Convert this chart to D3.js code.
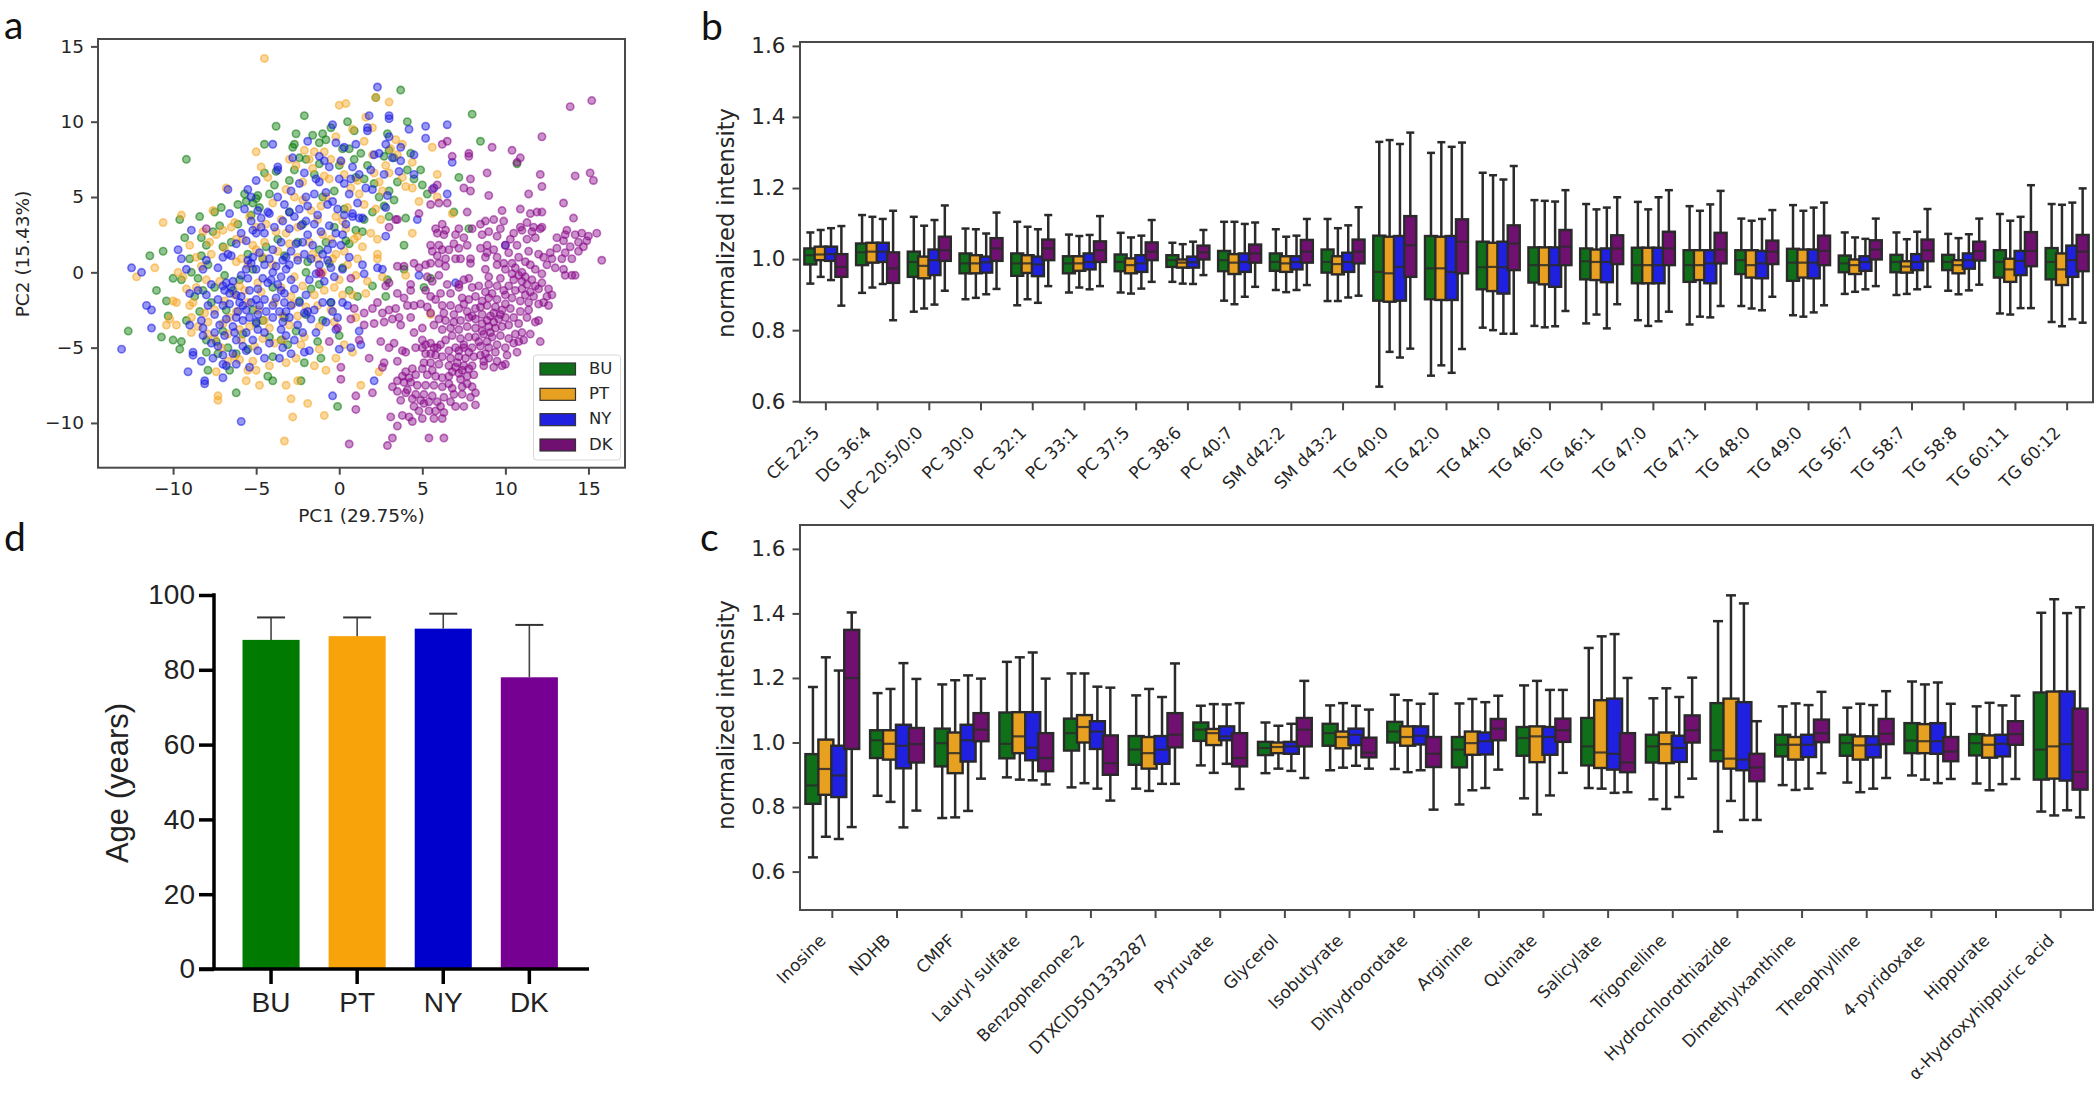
<!DOCTYPE html>
<html><head><meta charset="utf-8">
<script src="https://cdn.jsdelivr.net/npm/d3@7"></script>
<style>html,body{margin:0;padding:0;background:#fff}svg{display:block}</style>
</head><body><svg id="c" width="2100" height="1093"></svg>
<script>
// ---------- group names / colours ----------
const groups = ["BU","PT","NY","DK"];
const boxColors = ["#10701a","#e8a020","#2020e0","#701070"];
const dotColors = ["#0a7a0a","#f5a623","#1a1ae6","#8a0a8a"];
const barColors = ["#007a00","#f9a30a","#0000cc","#750091"];

// ---------- panel a : PCA scores [PC1, PC2] ----------
const pcaBU = [[3.7,12.1],[2.2,11.6],[-2.1,10.4],[8,10.5],[-3.8,9.7],[0.5,10],[4.1,10],[8.5,8.7],[-4.5,8.5],[-9.2,7.5],[-2.8,8.3],[-2.7,8.5],[-1,9.2],[-0.5,9.6],[10.7,7.2],[7.2,6.3],[4.9,6.8],[5,5.8],[4.3,7.9],[4.5,6.2],[0.2,8.2],[0.9,7.5],[1.7,7.1],[3.5,6],[3,5.4],[3.3,4.8],[-4.5,6.6],[-3.8,6.7],[-4.9,5.1],[-5,4.9],[-4.8,4.3],[-8.4,3.7],[-9.6,3.5],[-7.5,4],[-7.1,4.3],[-9.3,2.3],[-8.3,2.3],[-10.6,1.4],[-8,1.8],[-7,1.7],[-11.4,1.1],[-8.3,1.1],[-9,0.9],[-10,-0.4],[-9.5,-0.5],[-11,-1.2],[-10.4,-1.9],[-8.2,-1.2],[-10.3,-2.9],[-6,-0.5],[-12.7,-3.9],[-10.7,-4.3],[-10,-4.5],[-9.5,-4.6],[-9.6,-5.1],[-8,-4.5],[-7.4,-4.6],[-8,-5.3],[-6.7,-5],[-5.5,-5.1],[-4,-5.6],[-7.9,-6.5],[-6.6,-6.5],[-4.3,-6.9],[-4,-7.2],[-2.3,-7.2],[-6.2,-8],[-0.1,-8.9],[-3.5,-4.5],[-2.1,-6],[-1.1,-5.7],[-1.3,-4.6],[0.6,-1.2],[2,-0.9],[2.8,-1.6],[3.9,0.2],[3.9,1.8],[4,3.6],[3,3.7],[2,4],[1.5,3.5],[2.9,-0.5],[5.1,-1],[5.5,-0.4],[6.9,4],[7.8,2.9],[5.3,5.2],[-2,0],[-2.5,2],[-3,4],[-1,5],[-1.5,6.5],[-2.7,6.8],[-2,7.5],[-0.3,5.4],[0.3,4.2],[1,2.8],[-0.3,3],[-1.2,1.5],[-4,-1],[-6.5,2],[-5.5,1.2],[-5.2,-2.5],[-7.5,-1],[-6.8,-2.5],[-3.3,-3],[-2,-2.8],[-1,-3.2],[0,-4.2],[-0.5,-2],[-5.6,4.7],[-5.3,3.8],[-6.1,4.5],[-4.2,5.2],[-1.2,8.6],[-0.8,8.8],[0.6,8.2],[1.3,7.9],[2.7,7.7],[3.3,7.6],[1.5,6.2],[2.4,5],[-7.9,0.5],[-6.9,-0.2],[-8.7,-1.6],[-9.2,-3.2],[-7,-3.9],[-5,-3.4],[-4.2,-4.3],[-2.6,-3.9],[-4.6,0.9],[-3.7,2.2],[-2.2,3.2],[-1.7,-1.1],[-0.6,0.6],[0.6,1.9],[-7.2,3.1],[-6.1,3.2],[-5.2,4.6],[-3.9,5.8],[-3,6.1],[-2.4,7.6],[-1.2,7.2],[0,7.1],[1,6.3],[2.1,5.9],[2.7,4.4],[1.4,2.7],[0.4,2.1],[-0.8,2],[-1.9,0.7],[-3.3,1.1],[-4.4,1.7],[-5.2,0.2],[-6.4,-1.2],[-7.7,-2],[-8.4,-2.6],[-7.3,-5.4],[-5.8,-4.1],[-4.6,-3.2],[-3.1,-4.8],[-2.4,-1.9],[-1.2,-0.8],[0.2,0.3],[1.1,-1.6],[-8.9,0],[-8.5,-0.4],[-7.6,2.7],[-2.6,9.2],[-1.6,9.1],[0.9,9.4],[2.9,9.2],[3,8.1],[4.1,6.8],[-5.7,5.2],[-6.2,-5.4]];
const pcaPT = [[-4.5,14.2],[0.4,11.2],[0,11.1],[3,11.3],[2.2,11.6],[1.6,10.3],[-5,8],[-4.7,7],[-4.3,6.3],[0.8,9.5],[-0.2,9],[2,9.6],[3.4,8.8],[3.8,8.5],[5.6,8.3],[5.9,6.5],[4.4,7.3],[3.8,6.3],[4,5.7],[4.4,5.6],[4.8,4.7],[5.9,5],[6.8,3.9],[4.4,2.6],[2.5,3.5],[2.3,2.2],[2.3,1.2],[2.3,0.9],[2.6,-0.3],[4,-0.2],[-6.8,5.6],[-10.6,3.3],[-9.5,3.8],[-7.6,4.1],[-8.2,2.7],[-7.4,2.5],[-7,2.8],[-6.3,3.3],[-6.5,3],[-9,1.8],[-11.1,0.3],[-12.2,-0.3],[-9.7,0],[-8,-0.5],[-9.8,-2],[-10,-1.9],[-9,-2.2],[-8.8,-2],[-8.9,-3],[-10.2,-3.1],[-10.4,-3.5],[-9.8,-3.5],[-8.5,-3.6],[-7.5,-4.4],[-7.1,-5],[-6.3,-5.6],[-6,-5.8],[-7.4,-6.6],[-7.3,-8.2],[-7.3,-8.5],[-5.5,-6.5],[-5,-6.5],[-5.6,-7.2],[-4.8,-7.5],[-3.2,-7.5],[-3.2,-6],[-2.5,-7.2],[-2.9,-8.4],[-1.9,-8.7],[-1.5,-6.2],[-2.8,-9.6],[-0.9,-9.5],[-3.3,-11.2],[-0.8,-6.5],[1.3,-7.5],[2.4,-6.6],[0.8,-5.3],[1,-3],[0.8,-1.5],[1.6,-1.4],[5.5,-2.8],[-5.5,0.5],[-5,1.5],[-4.5,2],[-4,0.5],[-3.5,-1],[-5.5,-2],[-4.5,-3.2],[-3,-3.5],[-2.5,1],[-1.8,2],[-2.5,3],[-3.5,3.5],[-2.2,4.8],[-0.8,5],[-1.3,3.5],[-0.5,2.2],[0.5,0.5],[-1,0],[-1.5,-1.5],[-2,-2.3],[-0.5,-2.5],[0,-0.5],[-6.3,-1.5],[-7.5,-2.5],[-6,-3.8],[-1.8,7.5],[-1.5,8],[-0.5,7.5],[0.3,6.5],[1.2,5.2],[0.5,4.3],[1.5,8.7],[2.8,7.1],[2.1,6.6],[3.5,7.8],[-3,7.5],[-2.2,6],[-3.2,5.5],[-4,4.6],[-5,3],[-5.8,2.2],[-6.2,0.7],[-6,-0.9],[-4.9,-0.7],[-4.7,-1.3],[-3.9,-2],[-2.8,-2.1],[-2.2,-0.9],[-1.3,0.9],[-0.2,1.2],[0.4,2.9],[1.4,1.7],[1,-0.2],[-8.1,-2.7],[-7.9,-3.3],[-6.7,-4.1],[-5.1,-4.9],[-3.9,-4.7],[-2.1,-4.3],[-1.2,-3.6],[-0.3,-3.3],[1.1,2.4],[0.7,5.6],[2.4,6],[3.1,8.2],[-0.9,6.4],[-2.7,5],[-3.8,2.7],[-6.2,-2.6],[-5.7,-1.2],[-5.9,0.9],[-5.2,1.8],[-4.6,1],[-3.7,1.4],[-3,1.9],[-2.7,-0.3],[-2.9,-1.6],[-3.4,-2.9],[-4.2,-3.7],[-4.9,-2.5],[-6.9,-1.9],[-7.2,-0.6],[-8.6,-1],[-8.3,0.4],[-7.7,1.2],[-6.9,1.6],[-6.2,2.2],[-5.4,3.7],[-4.4,3.2],[-3.2,2.6],[-1.7,4.1],[-1.1,4.4],[-0.2,3.7],[0.2,3.4],[0.9,2.2],[1.9,2.6],[1.5,4.5],[1.1,6.1],[0.1,7.3],[-0.9,8],[-2.1,8.1],[-2.6,7.1],[-1.6,6.9],[-0.6,6.2],[2,7.8],[3,6.6],[2.6,5.4],[2.2,4.2],[0.2,-1.5],[-0.3,-1],[-0.9,-1.2],[-1.3,-2.2],[-2.5,-2.9],[-2.3,-4.8],[-3.4,-4.5],[-4.6,-4.4],[-5.4,-3.6],[-5.9,-4.5],[-6.6,-3],[-7,-3.4],[-7.9,-4.1],[-8.9,-4],[-9.2,-1.1],[-9.4,-0.3],[-8.6,1],[-7.8,2],[-1.6,1.2],[-1,2.5],[-0.4,0.9],[0.3,1.4],[1.1,0.9],[1.7,-0.6],[-5.2,-5.9],[-4.2,-6.2],[-6.7,-5.9],[-0.2,-5.7],[-2.6,-5.7],[0.3,-4.8],[-1.2,-5.1]];
const pcaNY = [[2.3,12.3],[3,10.4],[3,10.2],[1.8,10.4],[5.2,9.7],[6.5,9.8],[5.2,8.9],[-4,8.5],[-1.9,8.7],[-0.4,9.8],[1.7,9.6],[1.7,9.4],[3,9],[2.8,8.5],[4.2,9.5],[3.7,8.3],[4.5,7.8],[3.7,7.4],[6.8,7.3],[4.5,6.5],[2.7,6.5],[-3.7,7],[-3.7,6.8],[-0.6,7],[2.1,7.8],[0.3,8.3],[1,8.5],[0.8,7],[-5,6.1],[-5.3,5],[-6.7,5.5],[-5.5,5.5],[-5.7,4.2],[-6.6,3.9],[-4.9,4.1],[-4.3,4],[-3.3,4.5],[-2.4,4.2],[-1.5,5.2],[-0.8,5.3],[0.3,5.9],[0.6,5.2],[1.6,5.6],[2,5.5],[2.8,4.3],[5.7,5.6],[6.5,5.2],[4.7,3.5],[0.8,3.9],[1.4,3.6],[-1.5,3.2],[-4.5,2.6],[-5.2,2.8],[-3,2.9],[-8.9,2.8],[-9.7,1.5],[-9.5,0.9],[-9.2,0.2],[-12.5,0.3],[-11.9,0],[-9,-1.4],[-11.6,-2.2],[-11.3,-2.5],[-11.3,-3.7],[-8.3,-3.2],[-8.2,-3.7],[-8.2,-4.2],[-9,-3.5],[-13.1,-5.1],[-8.8,-5.3],[-8.8,-5.5],[-8.3,-5.9],[-7,-5.5],[-7.6,-5.7],[-9.1,-6.6],[-8.1,-7.2],[-8.1,-7.4],[-7,-7],[-7,-6.1],[-5.4,-6.3],[-4.5,-5.7],[-3.6,-5.7],[-5.9,-9.9],[-0.4,-8.2],[2.1,-7.2],[0,-5.1],[0.7,-5],[1.3,-4.8],[1.2,-3.9],[-0.2,-3.8],[0.5,-2.2],[-0.5,-2],[0.2,-2],[4.8,-0.2],[7,-0.7],[2.3,0.3],[2.6,0.2],[1.4,0.5],[1.5,-0.1],[2.8,2.4],[10,1.8],[-5.5,0.8],[-5.3,0.6],[-5,0.2],[-4.5,0.5],[-4,0],[-3.5,-0.3],[-3.2,0.2],[-3,0.5],[-4.3,-0.7],[-3.5,-1.2],[-6.8,-0.7],[-7,-0.9],[-6.5,-1],[-6.2,-1.5],[-6.6,-1.4],[-7.3,-1.8],[-5.8,-2.2],[-5.6,-2.5],[-5,-1.8],[-5.3,-2],[-4.8,-2.2],[-4.5,-1.8],[-4,-2.2],[-3.8,-1.7],[-3.3,-1.4],[-3.2,-2.6],[-3,-3],[-4,-3],[-5.8,-3.2],[-6.2,-3],[-6.8,-3.1],[-7.5,-2.8],[-7.5,-4],[-6.2,-4.5],[-5.2,-4.5],[-4.5,-4],[-3.5,-3.8],[-2.5,-3.5],[-2.7,-4.5],[-1.5,-2.5],[-1,-2],[-2,-1.5],[-1.8,-0.5],[-1.2,0.5],[-0.7,0.8],[-0.5,0.3],[-1,1.2],[-1.6,1.8],[-2.2,2],[-2.5,0.8],[-3.5,2],[-4,1.5],[-3.2,1],[-0.7,1.5],[0.1,1.8],[0.2,2.5],[-0.2,2.6],[-0.6,3.1],[-1.3,3.8],[-2,3.4],[0.8,3.7],[1.2,3.6],[-3,4],[-4.2,3.9],[-2,5],[-2.4,5.9],[-1.2,6],[-1.4,6.2],[0,6.2],[1.2,6.5],[-0.7,4.5],[-0.4,4.7],[-6.7,1.2],[-6.5,1.1],[-8,0.8],[-7.3,0.3],[-5.6,2.1],[-5,2.6],[-4.7,3],[-2.9,-0.5],[-5.5,-0.4],[-4.9,-1.1],[-6,-2],[-7,-2.2],[-6.4,-3.6],[-5,-3.3],[-3.3,-2],[-2.1,-2.7],[-1.4,-4],[-2.9,-5.4],[-5.6,-5.2],[-6.4,-5.4],[-7.7,-4.7],[-6.9,-1.2],[-6.4,-0.6],[-5.9,-0.2],[-5.6,0.2],[-5.2,1],[-4.8,1.3],[-4.2,0.9],[-3.8,0.4],[-3.4,0.8],[-2.9,1.4],[-2.6,1.9],[-2.1,1.2],[-1.7,0.9],[-1.4,-0.1],[-0.9,-0.6],[-0.3,-0.3],[0.2,0.2],[0.6,1],[-5.9,-1.6],[-5.4,-1.2],[-4.6,-0.4],[-4.1,-0.5],[-3.7,-0.8],[-2.7,-1.1],[-2.4,-2],[-1.9,-2.6],[-6.6,-2.1],[-6.1,-2.6],[-5.4,-3],[-4.9,-2.8],[-4.4,-2.6],[-3.6,-2.6],[-3.4,-3.3],[-2.9,-2.2],[-7.2,-3.5],[-6.9,-4.2],[-6.3,-4],[-5.6,-4],[-4.9,-3.8],[-3.2,-4.2],[-2.2,-4],[-1.7,-3.1],[-0.8,-3.3],[-0.4,-2.6],[-0.1,-3],[-8.5,-1.2],[-8,-1.5],[-7.7,-0.8],[-7.9,-2.2],[-8.2,0.2],[-7,1],[-6.2,1.9],[-5.9,2.6],[-5.3,3.4],[-4.7,3.6],[-3.9,3],[-3.4,3.4],[-2.7,3.7],[-2.3,3.1],[-1.9,2.5],[-1.1,2.7],[-0.4,1.9],[0.4,3.2],[0.3,3.8],[-0.1,4.2],[-1.9,4.4],[-3.7,5],[-2.9,5.4],[-2.1,6.6],[-0.9,7.4],[0.1,7.4],[0.7,6.2],[1.9,6.8],[2.4,7.9],[3.2,7.6],[3.6,6.7],[-0.2,8.6],[-1.2,7.7],[-2.8,7.6],[2.9,5.1],[1.1,4.6],[-5.8,-4.9],[-4.9,-5.2],[-3.4,-5],[-2.1,-5.3],[-7.3,-4.9],[-6.8,-6.2],[-4.2,-4.7],[-6.2,-6.1],[-1.8,-5.2]];
const pcaDK = [[13.9,11],[15.2,11.4],[12.2,9],[9.2,8.3],[10.4,8.1],[10.9,7.6],[7.8,7.9],[7.8,7.7],[6.8,7.7],[6.5,8.7],[6.2,8.5],[10.7,7.3],[8.9,6.6],[12.1,6.5],[12.2,5.7],[14.2,6.4],[15.1,6.6],[15.3,6.1],[7.9,6.2],[5.9,5.8],[5.6,5.5],[7.5,5.6],[7.9,5.4],[9,5.1],[11.4,5.2],[6,4.6],[5.5,4.5],[6.5,4.6],[13.5,4.6],[7.7,4],[9.8,4.1],[10.9,4.2],[11.5,3.9],[11.9,4],[12.2,4],[14.1,3.6],[8.8,3.4],[9.3,3.5],[9.9,3.4],[8.5,3.2],[11.3,3.3],[11.7,3],[12.1,2.9],[6.2,3.2],[5.8,2.9],[5.9,2.6],[6.4,2.8],[6.3,2.5],[7,2.5],[7.5,2.3],[8.6,2.5],[9,2.7],[9.5,2.4],[10.5,2.6],[11,2.8],[10.3,2.2],[11.3,2.2],[11.8,2.3],[12.2,3],[13.7,2.8],[13.6,2.5],[14.6,2.6],[15,2.4],[15.5,2.6],[13.5,2.1],[14.9,2.1],[14.4,2],[8.9,1.8],[10,1.8],[5.5,1.8],[6,1.8],[6.2,1.5],[5.6,1.4],[6.4,0.9],[7,0.9],[7.3,0.9],[7.9,0.9],[8.8,1],[9.5,1],[10.2,1.3],[10.8,1],[11.4,1.4],[12,1.2],[12.3,1],[12.7,1.3],[13.1,1.6],[13.6,1.3],[13.4,0.9],[14,0.9],[14.4,1.4],[15.8,0.8],[5.2,0.5],[5.5,0.6],[6,0.6],[6.4,0.4],[7.9,0.6],[8.8,0.2],[9.5,0.5],[10,0.2],[10.4,0.6],[11,0],[11.2,-0.3],[7.2,1.6],[7.7,1.8],[8.5,1.6],[9.3,1.5],[10.7,1.8],[11.5,0.5],[12.5,0.5],[13,0.3],[13.5,0.2],[14,-0.2],[14.2,-0.2],[13.6,-0.2],
[10.8,-0.2],[11,-0.6],[11.3,-0.8],[11.6,-0.5],[11.8,-0.9],[12,-1.1],[12.2,-0.7],[11.5,-1.3],[11.2,-1.5],[10.5,-0.5],[10.2,-0.9],[10.6,-1.2],[12.6,-1.1],[12.5,-1.6],[12.8,-1.5],[12.3,-2],[12,-2.1],[12.6,-2.2],[11.4,-2],[10.9,-1.9],[10.4,-1.7],[9.9,-1.2],[9.5,-0.9],[9.2,-1.4],[9,-1.7],[9.5,-1.8],[10,-2.1],[10.3,-2.4],[9.8,-2.5],[9.4,-2.3],[8.9,-2.2],[8.6,-1.9],[8.2,-1.6],[7.8,-1.8],[7.4,-1.7],[8.2,-2.4],[7.7,-2.6],[7.2,-2.4],[6.7,-2.2],[6.2,-2.2],[5.8,-1.8],[5.5,-1.6],[5.2,-1.2],[6.1,-1.4],[6.5,-0.8],[7.2,-0.8],[7.8,-0.4],[8,-1],[9,-0.3],[10.9,-2.6],[11.3,-3],[10.5,-3],[10,-3],[9.6,-3.1],[9.1,-2.9],[8.6,-2.8],[8.2,-3.1],[7.8,-3],[7.3,-3.2],[6.9,-3.3],[6.4,-3.2],[6,-3.1],[6.7,-3.7],[7.2,-3.8],[7.7,-3.6],[8.2,-3.7],[8.6,-3.4],[9,-3.6],[9.4,-3.7],[9.8,-3.6],[10.2,-3.5],[10.8,-3.4],[11,-4],[11.1,-4.5],[10.6,-4.1],[10.2,-4.4],[9.7,-4.2],[9.2,-4.3],[8.7,-4.1],[8.2,-4.3],[7.8,-4.3],[7.3,-4.4],[6.8,-4.2],
[12.1,-4.6],[10.5,-4.7],[10,-5],[9.5,-4.8],[9,-5],[8.5,-4.9],[8,-5],[7.5,-5],[7,-5],[6.6,-5.2],[6.1,-4.8],[5.7,-5],[5,-4.5],[5.5,-4.7],[5,-5],[4.6,-5],[5.2,-5.4],[5.8,-5.5],[6.2,-5.6],[6.7,-5.7],[7.2,-5.6],[7.6,-5.7],[8.1,-5.6],[8.5,-5.5],[9,-5.7],[9.5,-5.9],[9.8,-6.2],[10,-6.1],[10.1,-5.5],[9.3,-6.3],[8.7,-6.2],[8,-6.2],[7.5,-6.2],[7,-6.3],[6.6,-6.2],[6,-6.1],[5.5,-6],[5.1,-6],[7.2,-6.7],[7.7,-6.9],[8.1,-6.8],[6.6,-6.9],[6.2,-7],[5.8,-6.9],[5.3,-6.8],[4.6,-6.8],[4,-6.6],[3.5,-7.2],[3.9,-7.3],[4.3,-7.3],[4.7,-7.5],[5.2,-7.5],[5.7,-7.5],[6.2,-7.6],[6.8,-7.7],[7.4,-7.6],[8,-7.6],[8.2,-8],[7.9,-8.3],[7.4,-8.1],[6.9,-8.1],[6.3,-8.3],[5.6,-8.2],[5.1,-8.1],[4.6,-8.1],[4,-8],[3.5,-7.9],[3.2,-7.6],[5.1,-8.7],[4.5,-8.9],[6.1,-8.9],[7,-8.9],[7.5,-8.9],[8.2,-8.8],[4.8,-9.2],[5.4,-9.2],[6.3,-9.3],[5.7,-9.7],[6.2,-9.7],[5,-9.7],[4.2,-9.6],[3.8,-9.5],[3.1,-9.6],[4.4,-9.9],[3.5,-10.2],[3.2,-11],[2.9,-11.5],[0.6,-11.4],[5.4,-11],[6.3,-11],[5.8,-9.2],[1,-9.1],[1,-8.2],[2,-8],[0.1,-7.1],[0.1,-6.3],[2.6,-6.3],[2.7,-6],[1.8,-5.7],[3,-5],[2.5,-4.6],[3.3,-4.7],[3.8,-5.2],[4,-5.3],[3.5,-5.9],[1.2,-4.5],[-0.6,-4.6],[-0.1,-3.7],[0.7,-3.1],[0.9,-2.4],[1.5,-2.7],[2,-2.4],[2.3,-2],[2.6,-2.7],[3,-2.5],[3.4,-2.4],[3.5,-1.4],[3.9,-1.7],[4.1,-2.2],[4.5,-2.2],[4.3,-1.2],[4.9,-2.1],[5.3,-2.3],[2.8,-0.9],[3,-0.7],[3.5,0.4],[3.9,0.4],[4.5,0.6],[4.8,0.3],[4.3,-0.8],[4.3,-3],[5,-3.7],[3.7,-3.5],[2.7,-3.3],[4.5,-4],[6,-0.2],[7.2,-1],[9,-0.8],[3,3],[3.5,3.5],[3.4,3.5],[4.8,3.9],[0.7,-0.4],[-1.2,0],[-1.1,-0.1],[-8,2.9],
[8.4,-0.9],[8.8,-1.3],[9.7,-0.4],[10.4,-0.1],[11.7,-1.6],[11,-1.1],[10,-1.5],[9.3,-2.7],[8.5,-2.3],[8,-2.9],[7.5,-2.1],[6.9,-2.8],[8.9,-3.2],[9.3,-3.3],[9.7,-2.8],[8.4,-4.6],[8.9,-4.6],[8.6,-3.9],[9.1,-4],[7.5,-4.8],[7.2,-5.2],[7.8,-5.3],[7.1,-6],[7.4,-6.5],[7.8,-6.4],[6.8,-6.6],[7.3,-7.1],[7.7,-7.4],[6.6,-7.4],[5.9,-5],[5.5,-5.4],[5.2,-4.8],[6.4,-4.5],[10.8,-4.6],[11.5,-4.1],[11.8,-3.3],[11.4,-2.5],[12,-3.2],[10.7,-5.3],[9.4,-5.3],[8.8,-5.4],[8.7,-5.9],[4.1,-7.8],[4.4,-8.4],[3.7,-8.5],[4.9,-8.5],[5.4,-8.6],[5.9,-8.6],[6.7,-8.6],[4.2,-7],[3.8,-6.9],[4.4,-6.4],[5,-6.4],[5.6,-6.5],[8.9,1.3],[9.9,0.6],[10.6,0.3],[11.2,0.7],[11.8,0.2],[12.2,-0.1],[12.8,0.9],[13.9,1.7],[14.7,1.7],[13.1,2.3],[14.2,2.5],[11.6,2.7],[10.9,3],[9.7,2.9],[8,2.9],[7.2,2.9],[6.9,1.9],[6.6,1.5],[5.9,1.1],[5.3,-0.3],[5.6,-0.6],[6.7,-1.4],[7.5,-0.5],[3.6,-3],[3.2,-3.1],[2.1,-3.4],[1.5,-3.5],[6.3,-2.7],[5.5,-2.7],[5.7,-3.5],[6.2,-3.8]];

// ---------- panel b : lipids ; every row = [upper whisker, Q3, median, Q1, lower whisker] ----------
const lipidNames = ["CE 22:5","DG 36:4","LPC 20:5/0:0","PC 30:0","PC 32:1","PC 33:1","PC 37:5","PC 38:6","PC 40:7","SM d42:2","SM d43:2","TG 40:0","TG 42:0","TG 44:0","TG 46:0","TG 46:1","TG 47:0","TG 47:1","TG 48:0","TG 49:0","TG 56:7","TG 58:7","TG 58:8","TG 60:11","TG 60:12"];
const lipidBU = [[1.075,1.03,1.011,.985,.931],[1.124,1.044,1.019,.983,.905],[1.119,1.021,.992,.95,.852],[1.086,1.016,.988,.96,.887],[1.105,1.016,.988,.953,.87],[1.069,1.008,.988,.96,.906],[1.074,1.013,.992,.966,.906],[1.046,1.011,.997,.978,.936],[1.105,1.023,.997,.966,.883],[1.084,1.016,.992,.967,.913],[1.113,1.027,.992,.962,.882],[1.33,1.066,.964,.883,.641],[1.299,1.065,.974,.887,.672],[1.243,1.049,.977,.915,.807],[1.166,1.033,.983,.934,.812],[1.155,1.03,.994,.943,.819],[1.161,1.032,.983,.932,.828],[1.149,1.025,.983,.936,.816],[1.114,1.025,.997,.958,.868],[1.152,1.029,.99,.939,.842],[1.075,1.01,.988,.963,.902],[1.075,1.012,.992,.963,.899],[1.071,1.012,.992,.969,.911],[1.127,1.025,.992,.948,.847],[1.155,1.031,.992,.943,.823]];
const lipidPT = [[1.082,1.035,1.013,.997,.95],[1.119,1.046,1.021,.99,.92],[1.094,1.007,.981,.946,.861],[1.084,1.011,.988,.96,.891],[1.091,1.011,.988,.961,.887],[1.065,1.008,.988,.967,.92],[1.061,1.002,.983,.96,.903],[1.042,.999,.99,.976,.931],[1.105,1.014,.99,.958,.873],[1.063,1.008,.988,.964,.907],[1.087,1.008,.986,.957,.882],[1.335,1.063,.96,.88,.739],[1.329,1.063,.974,.885,.701],[1.236,1.046,.978,.91,.8],[1.164,1.033,.983,.929,.808],[1.14,1.027,.992,.941,.844],[1.14,1.032,.983,.932,.812],[1.136,1.025,.983,.941,.838],[1.108,1.025,.983,.948,.861],[1.136,1.027,.99,.948,.838],[1.061,.999,.983,.958,.908],[1.056,.994,.979,.962,.902],[1.059,.997,.983,.96,.901],[1.108,1.001,.971,.936,.844],[1.153,1.016,.971,.927,.811]];
const lipidNY = [[1.087,1.035,1.014,.995,.941],[1.113,1.046,1.021,.992,.93],[1.11,1.027,.997,.955,.872],[1.072,1.007,.991,.962,.901],[1.084,1.007,.985,.952,.877],[1.068,1.016,.992,.971,.915],[1.066,1.011,.988,.964,.917],[1.049,1.007,.991,.976,.93],[1.099,1.016,.992,.964,.894],[1.066,1.008,.992,.971,.913],[1.095,1.018,.992,.964,.892],[1.324,1.065,.978,.883,.723],[1.316,1.065,.964,.885,.68],[1.224,1.049,.977,.903,.79],[1.162,1.033,.983,.922,.811],[1.145,1.03,.992,.935,.805],[1.174,1.032,.983,.932,.825],[1.154,1.025,.988,.932,.836],[1.113,1.023,.988,.946,.856],[1.145,1.027,.99,.946,.85],[1.057,1.008,.992,.967,.915],[1.077,1.014,.992,.969,.915],[1.07,1.016,.997,.973,.912],[1.119,1.023,.995,.955,.862],[1.159,1.038,.997,.95,.831]];
const lipidDK = [[1.093,1.014,.978,.95,.869],[1.136,1.019,.974,.933,.828],[1.151,1.063,1.025,.995,.911],[1.131,1.059,1.03,.995,.916],[1.124,1.055,1.03,.997,.924],[1.121,1.05,1.025,.992,.924],[1.11,1.047,1.021,.997,.936],[1.082,1.038,1.019,.999,.955],[1.103,1.041,1.016,.99,.922],[1.113,1.054,1.021,.99,.927],[1.146,1.055,1.021,.988,.897],[1.356,1.121,1.039,.95,.748],[1.328,1.112,1.049,.96,.747],[1.262,1.095,1.044,.969,.79],[1.194,1.082,1.035,.983,.854],[1.174,1.067,1.03,.986,.873],[1.194,1.077,1.03,.983,.852],[1.192,1.074,1.027,.988,.868],[1.138,1.052,1.021,.986,.894],[1.159,1.066,1.023,.983,.87],[1.114,1.053,1.027,.999,.924],[1.141,1.055,1.025,.994,.922],[1.114,1.049,1.023,.996,.928],[1.208,1.076,1.023,.98,.862],[1.199,1.068,1.021,.966,.821]];

// ---------- panel c : metabolites ; every row = [upper whisker, Q3, median, Q1, lower whisker] ----------
const metaboliteNames = ["Inosine","NDHB","CMPF","Lauryl sulfate","Benzophenone-2","DTXCID501333287","Pyruvate","Glycerol","Isobutyrate","Dihydroorotate","Arginine","Quinate","Salicylate","Trigonelline","Hydrochlorothiazide","Dimethylxanthine","Theophylline","4-pyridoxate","Hippurate","α-Hydroxyhippuric acid"];
const metabBU = [[1.172,.964,.867,.81,.644],[1.153,1.038,1.007,.952,.835],[1.18,1.043,.998,.926,.766],[1.25,1.093,.996,.951,.892],[1.214,1.074,1.029,.975,.861],[1.146,1.02,.978,.931,.857],[1.114,1.062,1.04,1.005,.929],[1.062,1.002,.983,.961,.905],[1.115,1.058,1.029,.99,.914],[1.148,1.064,1.034,1,.918],[1.121,1.017,.978,.923,.808],[1.177,1.048,1.014,.959,.827],[1.293,1.076,.988,.929,.859],[1.137,1.024,.988,.938,.824],[1.376,1.122,.976,.942,.724],[1.112,1.024,.993,.957,.868],[1.108,1.024,.998,.959,.876],[1.189,1.06,1.006,.967,.898],[1.112,1.026,.998,.96,.873],[1.402,1.155,.978,.885,.786]];
const metabPT = [[1.264,1.009,.918,.838,.708],[1.166,1.038,.996,.947,.816],[1.193,1.031,.967,.905,.768],[1.264,1.094,1.019,.967,.885],[1.214,1.085,1.048,1,.874],[1.166,1.017,.967,.919,.85],[1.119,1.042,1.029,.992,.906],[1.052,1,.986,.967,.919],[1.122,1.034,1.017,.982,.922],[1.131,1.05,1.017,.99,.908],[1.135,1.034,.998,.962,.852],[1.191,1.05,1.019,.939,.777],[1.329,1.131,.969,.921,.857],[1.168,1.031,.995,.936,.794],[1.456,1.136,.95,.919,.819],[1.121,1.017,.993,.947,.853],[1.12,1.019,.991,.947,.846],[1.18,1.057,1.004,.967,.885],[1.123,1.022,.993,.953,.852],[1.444,1.158,.988,.888,.774]];
const metabNY = [[1.223,.99,.898,.831,.701],[1.246,1.055,.99,.92,.737],[1.208,1.055,1.007,.941,.788],[1.279,1.094,.984,.945,.883],[1.173,1.066,1.034,.98,.857],[1.141,1.02,.978,.934,.872],[1.118,1.05,1.019,1.007,.934],[1.058,1.002,.988,.965,.912],[1.114,1.043,1.024,.992,.928],[1.12,1.05,1.021,.994,.914],[1.125,1.031,1.004,.963,.859],[1.163,1.048,1.017,.962,.836],[1.336,1.136,.965,.916,.844],[1.141,1.021,.983,.94,.831],[1.431,1.125,.947,.914,.76],[1.116,1.024,.993,.955,.857],[1.116,1.019,.993,.954,.857],[1.186,1.06,1.004,.965,.874],[1.115,1.024,.996,.957,.871],[1.401,1.158,.995,.882,.79]];
const metabDK = [[1.403,1.349,1.2,.98,.738],[1.197,1.045,.995,.938,.789],[1.198,1.091,1.04,1.004,.888],[1.198,1.029,.952,.911,.87],[1.17,1.022,.936,.9,.82],[1.245,1.091,1.024,.985,.872],[1.122,1.029,.952,.926,.856],[1.191,1.076,1.04,.988,.89],[1.102,1.015,.969,.954,.919],[1.151,1.017,.965,.924,.792],[1.145,1.073,1.043,1.007,.916],[1.163,1.074,1.038,1.002,.906],[1.2,1.029,.938,.908,.846],[1.201,1.084,1.038,1,.888],[1.066,.965,.923,.88,.76],[1.157,1.071,1.029,1.001,.905],[1.159,1.073,1.027,.995,.89],[1.12,1.017,.972,.942,.887],[1.145,1.066,1.026,.993,.887],[1.419,1.105,.909,.854,.768]];

// ---------- panel d : age ----------
const ageMean = [88,89,91,78];
const ageTop  = [94,94,95,92];
const pcTicks = [-10,-5,0,5,10,15];
const pc2Ticks = [-10,-5,0,5,10,15];
const intensityTicks = [0.6,0.8,1.0,1.2,1.4,1.6];
const ageTicks = [0,20,40,60,80,100];

const svg = d3.select("#c");
const MPL = "'DejaVu Sans',sans-serif";
const TXT = "#262626", SPINE = "#4a4a4a";

function styleAxis(g, size){
  g.selectAll("text").attr("font-family",MPL).attr("font-size",size).attr("fill",TXT);
  g.selectAll("line").attr("stroke",SPINE).attr("stroke-width",2);
  g.select(".domain").remove();
}
function frame(x0,x1,y0,y1){
  svg.append("rect").attr("x",x0).attr("y",y0).attr("width",x1-x0).attr("height",y1-y0)
    .attr("fill","none").attr("stroke",SPINE).attr("stroke-width",2);
}
function rotLabel(t,x,y,size,fam,fill){
  svg.append("text").attr("transform",`translate(${x},${y}) rotate(-90)`).attr("text-anchor","middle")
    .attr("dominant-baseline","middle").attr("font-family",fam).attr("font-size",size).attr("fill",fill).text(t);
}
function panelLetter(t,x,y){
  svg.append("text").attr("x",x).attr("y",y).attr("font-family","Lato,'Open Sans',sans-serif")
    .attr("font-size",39).attr("fill","#111").text(t);
}
panelLetter("a",4,39); panelLetter("b",701,40); panelLetter("c",700,551); panelLetter("d",4,551);

// ---------- panel a ----------
(function(){
  const x = d3.scaleLinear().domain([-14.52,17.2]).range([98,625]);
  const y = d3.scaleLinear().domain([-12.97,15.49]).range([467.7,39]);
  const sets = [pcaBU,pcaPT,pcaNY,pcaDK];
  sets.forEach((pts,i)=>{
    svg.append("g").selectAll("circle").data(pts).join("circle")
      .attr("cx",d=>x(d[0])).attr("cy",d=>y(d[1])).attr("r",3.7)
      .attr("fill",dotColors[i]).attr("fill-opacity",.45)
      .attr("stroke",dotColors[i]).attr("stroke-opacity",.55).attr("stroke-width",1.6);
  });
  frame(98,625,39,467.7);
  styleAxis(svg.append("g").attr("transform","translate(0,467.7)")
    .call(d3.axisBottom(x).tickValues(pcTicks).tickFormat(d3.format("d")).tickSize(7).tickPadding(7)),18.5);
  styleAxis(svg.append("g").attr("transform","translate(98,0)")
    .call(d3.axisLeft(y).tickValues(pc2Ticks).tickFormat(d3.format("d")).tickSize(7).tickPadding(7)),18.5);
  svg.append("text").attr("x",361.5).attr("y",517).attr("text-anchor","middle").attr("dominant-baseline","middle")
    .attr("font-family",MPL).attr("font-size",18.5).attr("fill",TXT).text("PC1 (29.75%)");
  rotLabel("PC2 (15.43%)",24,254,18.5,MPL,TXT);
  // legend
  const lg = svg.append("g");
  lg.append("rect").attr("x",533.5).attr("y",355).attr("width",87).attr("height",105).attr("rx",3)
    .attr("fill","#fff").attr("fill-opacity",.8).attr("stroke","#d8d8d8").attr("stroke-width",1);
  const ly = d3.scalePoint().domain(groups).range([369,445]);
  groups.forEach((g,i)=>{
    lg.append("rect").attr("x",540).attr("y",ly(g)-6).attr("width",35.5).attr("height",12)
      .attr("fill",boxColors[i]).attr("stroke","#333").attr("stroke-width",1.2);
    lg.append("text").attr("x",589).attr("y",ly(g)).attr("dominant-baseline","middle")
      .attr("font-family",MPL).attr("font-size",16.5).attr("fill",TXT).text(g);
  });
})();

// ---------- panels b, c ----------
function boxPanel(names,series,yDomain,yRange,yLabelY){
  const x0=800,x1=2093;
  const x = d3.scaleBand().domain(names).range([x0,x1]);
  const y = d3.scaleLinear().domain(yDomain).range(yRange);
  const step = x.bandwidth();
  const bw = step*0.232, cap = step*0.155, off = step*0.2;
  series.forEach((rows,gi)=>{
    const g = svg.append("g").selectAll("g").data(rows).join("g")
      .attr("transform",(d,i)=>`translate(${x(names[i])+step/2+(gi-1.5)*off},0)`);
    const L = (sel)=>sel.attr("stroke","#2a2a2a").attr("stroke-width",2.5);
    L(g.append("line")).attr("x1",0).attr("x2",0).attr("y1",d=>y(d[0])).attr("y2",d=>y(d[1]));
    L(g.append("line")).attr("x1",0).attr("x2",0).attr("y1",d=>y(d[3])).attr("y2",d=>y(d[4]));
    L(g.append("line")).attr("x1",-cap/2).attr("x2",cap/2).attr("y1",d=>y(d[0])).attr("y2",d=>y(d[0]));
    L(g.append("line")).attr("x1",-cap/2).attr("x2",cap/2).attr("y1",d=>y(d[4])).attr("y2",d=>y(d[4]));
    g.append("rect").attr("x",-bw/2).attr("width",bw).attr("y",d=>y(d[1])).attr("height",d=>y(d[3])-y(d[1]))
      .attr("fill",boxColors[gi]).attr("stroke","#2a2a2a").attr("stroke-width",2.4);
    g.append("line").attr("x1",-bw/2).attr("x2",bw/2).attr("y1",d=>y(d[2])).attr("y2",d=>y(d[2]))
      .attr("stroke","#2a2a2a").attr("stroke-opacity",.85).attr("stroke-width",2.2);
  });
  frame(x0,x1,yRange[1],yRange[0]);
  const ax = svg.append("g").attr("transform",`translate(0,${yRange[0]})`)
    .call(d3.axisBottom(x).tickSize(8).tickPadding(5));
  styleAxis(ax,17);
  ax.selectAll("text").attr("text-anchor","end").attr("dy",null).attr("y",null)
    .attr("dominant-baseline","middle")
    .attr("transform","translate(-9,28) rotate(-45)");
  styleAxis(svg.append("g").attr("transform",`translate(${x0},0)`)
    .call(d3.axisLeft(y).tickValues(intensityTicks).tickFormat(d3.format(".1f")).tickSize(7.5).tickPadding(7)),21.5);
  rotLabel("normalized intensity",727,yLabelY,22.5,MPL,TXT);
}
boxPanel(lipidNames,[lipidBU,lipidPT,lipidNY,lipidDK],[0.597,1.611],[402.3,42],223);
boxPanel(metaboliteNames,[metabBU,metabPT,metabNY,metabDK],[0.481,1.674],[910,525],715);

// ---------- panel d ----------
(function(){
  const ARIAL="'Liberation Sans',Arial,sans-serif";
  const x = d3.scaleBand().domain(groups).range([228,572.4]).paddingInner(.337).paddingOuter(.337/2);
  const y = d3.scaleLinear().domain([0,100]).range([969,595]);
  const data = groups.map((g,i)=>({g,m:ageMean[i],t:ageTop[i],c:barColors[i]}));
  svg.append("g").selectAll("rect").data(data).join("rect")
    .attr("x",d=>x(d.g)).attr("width",x.bandwidth()).attr("y",d=>y(d.m)).attr("height",d=>y(0)-y(d.m)).attr("fill",d=>d.c);
  const e = svg.append("g").selectAll("g").data(data).join("g");
  e.append("line").attr("x1",d=>x(d.g)+x.bandwidth()/2).attr("x2",d=>x(d.g)+x.bandwidth()/2)
    .attr("y1",d=>y(d.m)).attr("y2",d=>y(d.t)).attr("stroke","#444").attr("stroke-width",1.6);
  e.append("line").attr("x1",d=>x(d.g)+x.bandwidth()/2-14).attr("x2",d=>x(d.g)+x.bandwidth()/2+14)
    .attr("y1",d=>y(d.t)).attr("y2",d=>y(d.t)).attr("stroke","#333").attr("stroke-width",2);
  const sty=(g)=>{g.selectAll("text").attr("font-family",ARIAL).attr("font-size",28).attr("fill","#222");
    g.selectAll("line").attr("stroke","#000").attr("stroke-width",3.5);g.select(".domain").remove();};
  sty(svg.append("g").attr("transform","translate(214,0)")
    .call(d3.axisLeft(y).tickValues(ageTicks).tickSize(15).tickPadding(4)));
  sty(svg.append("g").attr("transform",`translate(0,${y(0)})`)
    .call(d3.axisBottom(x).tickSize(15).tickPadding(8)));
  svg.append("line").attr("x1",214).attr("x2",214).attr("y1",y(100)-1.7).attr("y2",y(0)).attr("stroke","#000").attr("stroke-width",3.5);
  svg.append("line").attr("x1",199).attr("x2",589).attr("y1",y(0)).attr("y2",y(0)).attr("stroke","#000").attr("stroke-width",3.5);
  rotLabel("Age (years)",120,783,31,ARIAL,"#222");
})();
</script></body></html>
